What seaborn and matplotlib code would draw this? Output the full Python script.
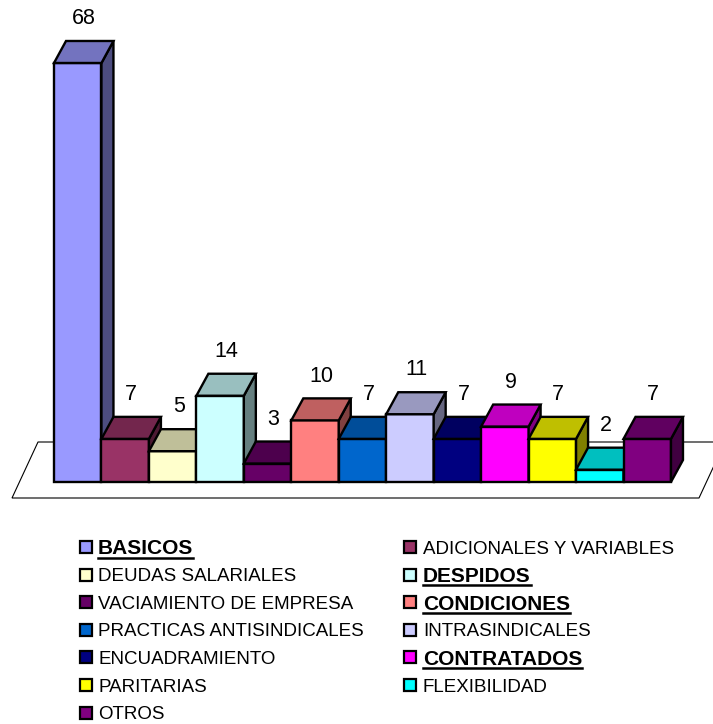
import matplotlib
matplotlib.use("Agg")
import matplotlib.pyplot as plt
from matplotlib.patches import Polygon, Rectangle
from matplotlib.lines import Line2D
from matplotlib.colors import to_rgb
import seaborn as sns
import pandas as pd

# ---- data -------------------------------------------------------------
categories = [
    "BASICOS", "ADICIONALES Y VARIABLES", "DEUDAS SALARIALES", "DESPIDOS",
    "VACIAMIENTO DE EMPRESA", "CONDICIONES", "PRACTICAS ANTISINDICALES",
    "INTRASINDICALES", "ENCUADRAMIENTO", "CONTRATADOS", "PARITARIAS",
    "FLEXIBILIDAD", "OTROS",
]
values = [68, 7, 5, 14, 3, 10, 7, 11, 7, 9, 7, 2, 7]
front_colors = [
    "#9999FF", "#993366", "#FFFFCC", "#CCFFFF", "#660066", "#FF8080",
    "#0066CC", "#CCCCFF", "#000080", "#FF00FF", "#FFFF00", "#00FFFF",
    "#800080",
]
highlighted = ["BASICOS", "DESPIDOS", "CONDICIONES", "CONTRATADOS"]

# ---- figure ------------------------------------------------------------
W, H = 713, 724
fig = plt.figure(figsize=(W / 100, H / 100), dpi=100)
ax = fig.add_axes([0, 0, 1, 1])
plt.rcParams["font.family"] = ["Liberation Sans", "DejaVu Sans"]

df = pd.DataFrame({"cat": categories, "val": values})
sns.barplot(data=df, x="cat", y="val", hue="cat", palette=front_colors,
            saturation=1, width=1.0, edgecolor="black", linewidth=1.7,
            legend=False, ax=ax)
bars = [p for p in ax.patches if isinstance(p, Rectangle)]
bars = sorted(bars, key=lambda p: p.get_x())

# pixel scale of the plotting area
px_per_x = 47.46
px_per_y = 6.162
x0_px, y0_px = 54, 482
xmin = -0.5 - x0_px / px_per_x
xmax = xmin + W / px_per_x
ymax = y0_px / px_per_y
ymin = ymax - H / px_per_y
ax.set_xlim(xmin, xmax)
ax.set_ylim(ymin, ymax)
ax.axis("off")


def to_data(px, py):
    return xmin + px / px_per_x, (y0_px - py) / px_per_y


# floor of the 3-D scene
floor = [to_data(12, 498), to_data(699, 498), to_data(725, 442), to_data(38, 442)]
ax.add_patch(Polygon(floor, closed=True, facecolor="white", edgecolor="black",
                     linewidth=0.8, zorder=1))

# depth of the boxes
dx = 12 / px_per_x
dy = 22 / px_per_y


def shade(c, f):
    r, g, b = to_rgb(c)
    return (r * f, g * f, b * f)


for i, (bar, col) in enumerate(zip(bars, front_colors)):
    x, w, h = bar.get_x(), bar.get_width(), bar.get_height()
    z = 2 + 3 * i
    bar.set_zorder(z)
    top = [(x, h), (x + dx, h + dy), (x + w + dx, h + dy), (x + w, h)]
    side = [(x + w, 0), (x + w + dx, dy), (x + w + dx, h + dy), (x + w, h)]
    ax.add_patch(Polygon(side, closed=True, facecolor=shade(col, 0.5),
                         edgecolor="black", linewidth=1.7, joinstyle="miter",
                         zorder=z + 1))
    ax.add_patch(Polygon(top, closed=True, facecolor=shade(col, 0.75),
                         edgecolor="black", linewidth=1.7, joinstyle="miter",
                         zorder=z + 1))
    ax.annotate(f"{h:g}", xy=(x + w / 2 + dx / 2, h + dy),
                xytext=(0, 16), textcoords="offset points",
                ha="center", va="center", fontsize=15.5, zorder=100)

# ---- legend (two columns, row-major) -------------------------------------
col_sq_x = [80, 404]
col_tx_x = [98, 423]
row_y0, row_dy = 547, 27.6
texts = []
for k, name in enumerate(categories):
    c, r = k % 2, k // 2
    cy = row_y0 + r * row_dy
    sq = 12
    fig.add_artist(Rectangle((col_sq_x[c] / W, 1 - (cy + sq / 2) / H),
                             sq / W, sq / H, transform=fig.transFigure,
                             facecolor=front_colors[k], edgecolor="black",
                             linewidth=1.6))
    bold = name in highlighted
    t = fig.text(col_tx_x[c] / W, 1 - cy / H, name,
                 fontsize=15 if bold else 13.5,
                 fontweight="bold" if bold else "normal",
                 ha="left", va="center_baseline")
    texts.append((t, bold))

fig.canvas.draw()
renderer = fig.canvas.get_renderer()
for t, bold in texts:
    if not bold:
        continue
    bb = t.get_window_extent(renderer)
    y = bb.y0 + 1
    fig.add_artist(Line2D([bb.x0 / W, bb.x1 / W], [y / H, y / H],
                          transform=fig.transFigure, color="black",
                          linewidth=1.8))

fig.savefig("out.png", dpi=100)
